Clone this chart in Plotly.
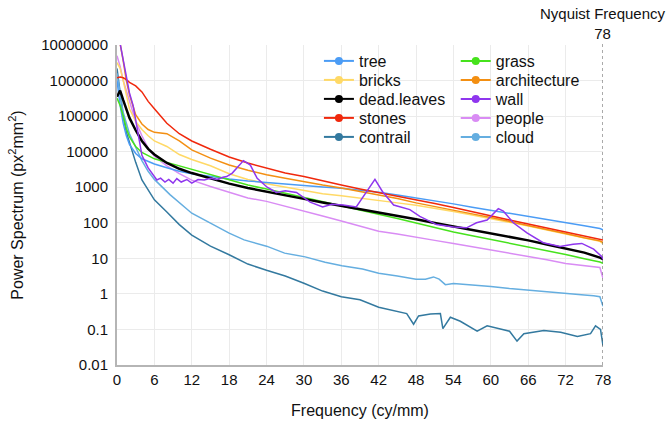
import plotly.graph_objects as go

# ---------------- data ----------------
FREQ = [0, 0.5, 1, 1.5, 2, 3, 4, 5, 6, 8, 10, 12, 15, 18, 21, 24, 27, 30, 33, 36,
        39, 42, 45, 48, 51, 54, 57, 60, 63, 66, 69, 72, 75, 77.5, 78]

tree = [1e6, 2.0e5, 6.3e4, 2.8e4, 1.6e4, 8900, 6300, 5200, 4500, 3550, 2800, 2400, 2000,
        1700, 1500, 1350, 1230, 1120, 1020, 930, 830, 720, 600, 500, 420, 340, 275, 225,
        186, 155, 129, 105, 83, 69, 63]
bricks = [3.2e6, 2.2e6, 1.0e6, 4.0e5, 1.6e5, 7.1e4, 4.2e4, 2.8e4, 2.0e4, 1.4e4, 8300, 6000,
          4000, 2400, 1660, 1260, 1000, 800, 660, 575, 500, 436, 363, 309, 257, 209, 166,
          132, 105, 81, 63, 49, 37, 30, 26]
dead_leaves = [3.5e5, 5.2e5, 2.8e5, 1.6e5, 8.9e4, 4.0e4, 2.0e4, 1.2e4, 8300, 4800, 3300,
               2500, 1740, 1260, 950, 760, 590, 470, 370, 300, 245, 200, 158, 126, 98, 79,
               63, 50, 40, 32, 24.5, 19, 14.5, 10.5, 9.5]
stones = [1.2e6, 1.26e6, 1.2e6, 1.07e6, 8.9e5, 7.1e5, 4.8e5, 2.6e5, 1.6e5, 6.3e4, 3.2e4,
          2.0e4, 1.17e4, 7100, 4800, 3400, 2500, 2000, 1500, 1150, 890, 710, 560, 450, 350,
          270, 204, 158, 120, 93, 72, 56, 44, 35, 33]
grass = [3.2e5, 2.0e5, 1.0e5, 4.5e4, 2.6e4, 1.4e4, 9500, 7600, 6300, 5000, 4000, 3200, 2240,
         1580, 1150, 890, 680, 525, 400, 310, 234, 178, 132, 98, 72, 55, 43, 34, 27, 21,
         16.6, 12.9, 9.8, 7.9, 7.2]
architecture = [2.5e7, 1.1e7, 3.5e6, 1.0e6, 4.0e5, 1.1e5, 6.0e4, 4.2e4, 3.5e4, 3.2e4, 2.0e4,
                1.12e4, 6600, 4200, 3000, 2240, 1780, 1410, 1150, 955, 760, 630, 480, 363,
                282, 224, 178, 141, 110, 85, 66, 50, 38, 31, 28]
people = [5.0e6, 2.5e6, 1.0e6, 5.0e5, 2.5e5, 7.1e4, 2.8e4, 1.26e4, 7400, 4000, 2400, 1580,
          1050, 710, 500, 400, 295, 214, 155, 112, 79, 57.5, 48, 40, 32, 26.3, 21.4, 17,
          13.8, 11.2, 9.1, 7.2, 6.3, 5.5, 2.75]

CONTRAIL_FREQ = [0, 0.5, 1, 1.5, 2, 3, 4, 5, 6, 8, 10, 12, 15, 18, 21, 24, 27, 30, 33, 36,
                 39, 42, 45, 46.5, 47.6, 48.4, 50.3, 51.9, 52.3, 53.5, 55.1, 57.8, 59.4,
                 61.6, 63, 64.2, 65.3, 68.5, 71.2, 73.9, 76, 76.8, 77.6, 78]
contrail = [2.2e6, 4.0e5, 1.0e5, 3.5e4, 1.8e4, 5000, 1600, 800, 440, 200, 89, 45, 22, 12.6,
            6.9, 4.6, 3.2, 2.0, 1.2, 0.83, 0.68, 0.42, 0.32, 0.28, 0.14, 0.24, 0.27, 0.28,
            0.105, 0.22, 0.17, 0.089, 0.126, 0.1, 0.089, 0.047, 0.076, 0.093, 0.083, 0.063,
            0.076, 0.126, 0.1, 0.035]

WALL_FREQ = [0, 0.5, 1, 1.3, 2, 2.6, 3.4, 4, 5, 5.8, 6.4, 7, 7.7, 8.3, 9, 9.6, 10.3, 11.2,
             12, 13, 14, 15, 16, 17, 17.6, 18.5, 19.2, 20.3, 21.4, 22.5, 24.1, 25.6, 27,
             28.8, 31, 33, 34.5, 36.3, 38.4, 40.1, 41.4, 42.6, 44.4, 47, 48.6, 51.3, 54,
             56.1, 57.7, 59.4, 61.2, 62, 63.6, 65.8, 68.4, 71.1, 73.2, 74.6, 76.5, 77.8, 78]
wall = [3.2e7, 1.1e7, 3.2e6, 1.6e6, 4.5e5, 1.95e5, 3.5e4, 7900, 3500, 2200, 1600, 1800, 1400,
        1650, 1300, 1750, 1400, 1650, 1300, 1650, 1600, 1780, 1650, 1900, 2000, 2500, 3400,
        5600, 4200, 1780, 1000, 710, 790, 710, 380, 280, 330, 316, 280, 800, 1660, 760, 316,
        234, 151, 89, 76, 72, 100, 120, 250, 214, 100, 52, 27.5, 21.4, 25, 26.3, 18.2, 11.2,
        9.5]

CLOUD_FREQ = [0, 0.5, 1, 2, 3, 4, 5, 6, 8.5, 12, 15, 18, 20.4, 24, 26.9, 30.2, 33.4, 36.1,
              39.4, 42, 45, 48, 49.5, 50.8, 51.7, 52.7, 54, 57, 60, 63, 66, 69, 72, 75,
              76.5, 77.5, 78]
cloud = [1.6e6, 4.0e5, 1.26e5, 3.2e4, 1.26e4, 5600, 2800, 1660, 620, 186, 98, 51, 33, 22,
         14, 11, 7.8, 6.2, 5.0, 3.8, 3.2, 2.6, 2.6, 3.0, 2.6, 1.82, 1.95, 1.78, 1.62, 1.41,
         1.26, 1.12, 1.0, 0.93, 0.89, 0.83, 0.45]

X_TICKS = [0, 6, 12, 18, 24, 30, 36, 42, 48, 54, 60, 66, 72, 78]
Y_TICKS = [0.01, 0.1, 1, 10, 100, 1000, 10000, 100000, 1000000, 10000000]
Y_TICK_TEXT = ["0.01", "0.1", "1", "10", "100", "1000", "10000", "100000", "1000000",
               "10000000"]
NYQUIST = 78

COLORS = {
    "tree": "#4b9cf5",
    "bricks": "#ffd966",
    "dead.leaves": "#000000",
    "stones": "#f0280c",
    "contrail": "#33799f",
    "grass": "#46e21c",
    "architecture": "#f38f12",
    "wall": "#8f36ee",
    "people": "#d98cf4",
    "cloud": "#65aee0",
}

FONT = "Liberation Sans, Arial, Helvetica, sans-serif"

fig = go.Figure()

# data traces, drawn in this order
draw = [
    ("contrail", CONTRAIL_FREQ, contrail, 1.5),
    ("cloud", CLOUD_FREQ, cloud, 1.5),
    ("people", FREQ, people, 1.5),
    ("bricks", FREQ, bricks, 1.5),
    ("tree", FREQ, tree, 1.5),
    ("architecture", FREQ, architecture, 1.5),
    ("stones", FREQ, stones, 1.5),
    ("grass", FREQ, grass, 1.5),
    ("dead.leaves", FREQ, dead_leaves, 2.5),
    ("wall", WALL_FREQ, wall, 1.5),
]
for name, xs, ys, w in draw:
    fig.add_trace(go.Scatter(x=xs, y=ys, mode="lines", name=name, showlegend=False,
                             line=dict(color=COLORS[name], width=w)))

# legend entries: two columns, one legend box per entry so rows can be spaced tightly
col1 = ["tree", "bricks", "dead.leaves", "stones", "contrail"]
col2 = ["grass", "architecture", "wall", "people", "cloud"]
row_y = [0.950, 0.8906, 0.8313, 0.7719, 0.7125]
col_x = [0.4155, 0.697]

legend_layout = {}
k = 0
for ci, names in enumerate((col1, col2)):
    for ri, name in enumerate(names):
        k += 1
        lg = "legend" if k == 1 else "legend%d" % k
        fig.add_trace(go.Scatter(x=[None], y=[None], mode="lines+markers", name=name,
                                 legend=lg,
                                 line=dict(color=COLORS[name], width=2),
                                 marker=dict(color=COLORS[name], size=8)))
        legend_layout[lg] = dict(x=col_x[ci], y=row_y[ri], xanchor="left",
                                 yanchor="middle", bgcolor="rgba(0,0,0,0)",
                                 font=dict(family=FONT, size=16, color="#111111"),
                                 itemwidth=30)

fig.add_shape(type="line", xref="x", yref="paper", x0=NYQUIST, x1=NYQUIST, y0=0, y1=1.01,
              line=dict(color="#555555", width=1, dash="dot"))
fig.add_annotation(x=NYQUIST, xref="x", y=1.0, yref="paper", yanchor="bottom",
                   yshift=1, showarrow=False, text="Nyquist Frequency<br>" + str(NYQUIST),
                   font=dict(family=FONT, size=15, color="#111111"), align="center")

fig.update_layout(
    width=666, height=424,
    margin=dict(l=117, r=63, t=45, b=59, autoexpand=False),
    paper_bgcolor="white", plot_bgcolor="white",
    font=dict(family=FONT, size=15, color="#111111"),
    xaxis=dict(range=[0, 78], tickvals=X_TICKS, showgrid=True, gridcolor="#ebebeb",
               showline=True, linecolor="#b5b5b5", linewidth=2, zeroline=False,
               ticks="", tickfont=dict(size=15), automargin=False,
               title=dict(text="Frequency (cy/mm)", font=dict(size=16), standoff=18)),
    yaxis=dict(type="log", range=[-2, 7], tickvals=Y_TICKS, ticktext=Y_TICK_TEXT,
               showgrid=True, gridcolor="#ebebeb", showline=True, linecolor="#b5b5b5",
               linewidth=2, zeroline=False, ticks="", tickfont=dict(size=15),
               ticklabelstandoff=4, automargin=False,
               title=dict(text="Power Spectrum (px<sup>2</sup>mm<sup>2</sup>)",
                          font=dict(size=16), standoff=14)),
    **legend_layout,
)

fig.write_html("out.html")
